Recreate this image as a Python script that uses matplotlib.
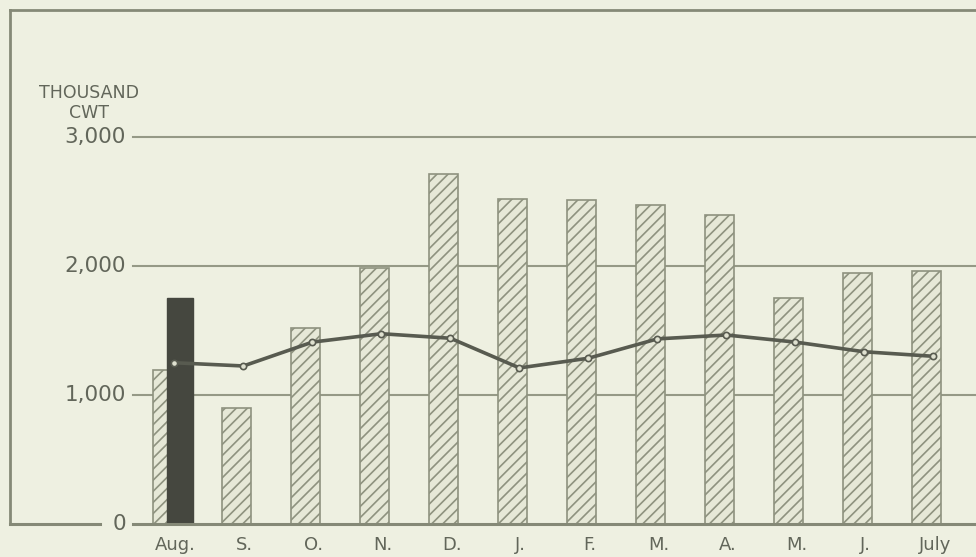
import numpy as np
import matplotlib.pyplot as plt

# Datos (miles de cwt)
meses = ['Aug.', 'S.', 'O.', 'N.', 'D.', 'J.', 'F.', 'M.', 'A.', 'M.', 'J.', 'July']
barras = [1190, 900, 1520, 1985, 2715, 2520, 2515, 2475, 2395, 1750, 1945, 1960]
barra_aug = [1750]
linea = [1250, 1225, 1410, 1475, 1440, 1210, 1285, 1435, 1465, 1410, 1335, 1300]
ticks_y = [0, 1000, 2000, 3000]
etiquetas_y = ['0', '1,000', '2,000', '3,000']

# Colores
fondo = '#eef0e1'
texto = '#62665a'
rejilla = '#959986'
marco = '#858977'
relleno = '#e6e8d7'
trama = '#8e927f'
oscuro = '#45473f'
color_linea = '#585b50'

plt.rcParams['hatch.linewidth'] = 1.2
plt.rcParams['font.family'] = ['DejaVu Sans']

fig = plt.figure(figsize=(9.76, 5.57), dpi=100)
fig.patch.set_facecolor(fondo)
ax = fig.add_axes([10 / 976, 33 / 557, 966 / 976, 514 / 557])
ax.set_facecolor(fondo)

x = np.arange(len(meses))

# Barras con trama
ax.bar(x, barras, width=0.42, color=relleno, edgecolor=trama,
       hatch='///', linewidth=1.2, zorder=2)

# Barra oscura de agosto
ax.bar(x[0] + 0.18, barra_aug, width=0.37, color=oscuro,
       edgecolor=oscuro, linewidth=1, zorder=3)

# Linea
ax.plot(x + 0.1, linea, color=color_linea, linewidth=2.6, marker='o',
        markersize=4.5, markerfacecolor='#dfe1d0', markeredgecolor=color_linea,
        markeredgewidth=1.2, zorder=4)

# Rejilla y linea base
for v in ticks_y[1:]:
    ax.axhline(v, xmin=123 / 966, xmax=1, color=rejilla, linewidth=1.5, zorder=1)
ax.axhline(0, xmin=0, xmax=90 / 966, color=marco, linewidth=2.2, clip_on=False, zorder=5)
ax.axhline(0, xmin=123 / 966, xmax=1, color=marco, linewidth=2.2, clip_on=False, zorder=5)

# Limites
ax.set_xlim((10 - 167.5) / 69, (976 - 167.5) / 69)
ax.set_ylim(0, 514 / 0.129)

# Etiquetas del eje Y
for v, t in zip(ticks_y, etiquetas_y):
    ax.text(-0.60, v, t, ha='right', va='center', fontsize=15.5, color=texto)

fig.text(89 / 976, 1 - 93 / 557, 'THOUSAND', ha='center', va='center',
         fontsize=12.5, color=texto)
fig.text(89 / 976, 1 - 113 / 557, 'CWT', ha='center', va='center',
         fontsize=12.5, color=texto)

# Eje X
ax.set_yticks([])
ax.set_xticks(x + 0.12)
ax.set_xticklabels(meses, fontsize=13, color=texto)
ax.tick_params(axis='x', length=0, pad=9)

# Marco
ax.spines['right'].set_visible(False)
ax.spines['bottom'].set_visible(False)
for s in ['top', 'left']:
    ax.spines[s].set_color(marco)
    ax.spines[s].set_linewidth(2)

plt.savefig('out.png', dpi=100, facecolor=fig.get_facecolor())
plt.close()
